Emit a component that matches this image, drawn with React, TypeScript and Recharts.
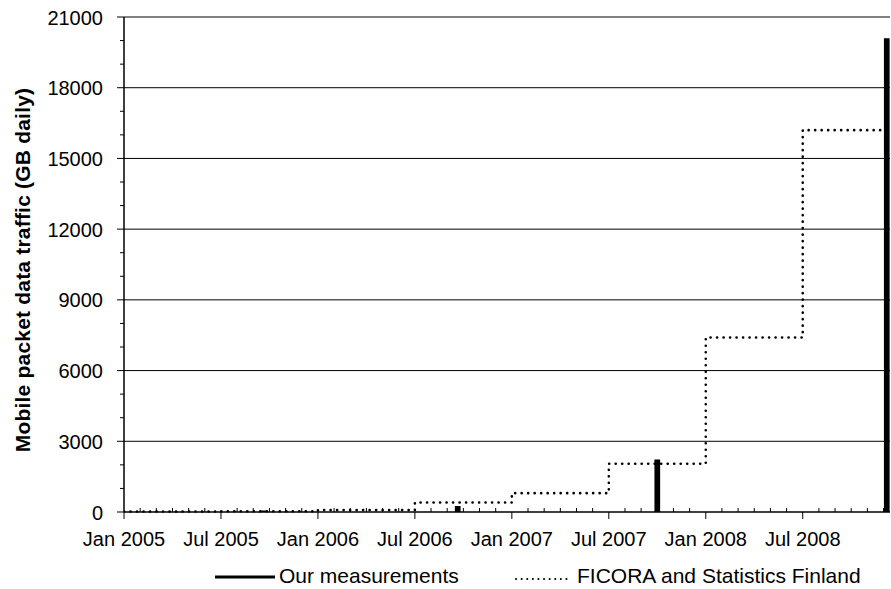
import React from "react";
import { ComposedChart, Line, XAxis, YAxis, CartesianGrid } from "recharts";

// x values are months counted from Jan 2005 (0 = Jan 2005)
const majorMonths = [0, 6, 12, 18, 24, 30, 36, 42];
const majorLabels = [
  "Jan 2005",
  "Jul 2005",
  "Jan 2006",
  "Jul 2006",
  "Jan 2007",
  "Jul 2007",
  "Jan 2008",
  "Jul 2008",
];
const monthTicks = [
  0, 1, 2, 3, 4, 5, 6, 7, 8, 9, 10, 11, 12, 13, 14, 15, 16, 17, 18, 19, 20, 21,
  22, 23, 24, 25, 26, 27, 28, 29, 30, 31, 32, 33, 34, 35, 36, 37, 38, 39, 40,
  41, 42, 43, 44, 45, 46, 47,
];
const yTicks = [
  0, 1000, 2000, 3000, 4000, 5000, 6000, 7000, 8000, 9000, 10000, 11000, 12000,
  13000, 14000, 15000, 16000, 17000, 18000, 19000, 20000, 21000,
];
const gridValues = [3000, 6000, 9000, 12000, 15000, 18000, 21000];

// FICORA and Statistics Finland (half-year steps)
const ficoraMonths = [0, 6, 12, 18, 24, 30, 36, 42, 47];
const ficoraGB = [20, 30, 80, 400, 800, 2050, 7400, 16200, 16200];

// Our measurements
const measuredMonths = [8.6, 20.65, 33.0, 47.2];
const measuredGB = [60, 250, 2230, 20100];

const ficoraData = ficoraMonths.map((m, i) => ({ m, gb: ficoraGB[i] }));
// each measurement is a vertical stroke from 0 up to its value, broken by a null
const measuredData = measuredMonths.flatMap((m, i) => [
  { m, gb: 0 },
  { m, gb: measuredGB[i] },
  { m, gb: null },
]);

const FONT = "'Liberation Sans', Arial, sans-serif";

function XTick({ x, y, payload }: any) {
  const idx = majorMonths.indexOf(payload.value);
  if (idx >= 0) {
    return (
      <g>
        <line x1={x} x2={x} y1={y} y2={y + 7} stroke="#000" />
        <text
          x={x}
          y={y + 34}
          textAnchor="middle"
          fontFamily={FONT}
          fontSize={20}
          fill="#000"
        >
          {majorLabels[idx]}
        </text>
      </g>
    );
  }
  return <line x1={x} x2={x} y1={y} y2={y - 4} stroke="#000" />;
}

function YTick({ x, y, payload }: any) {
  const major = payload.value % 3000 === 0;
  if (major) {
    return (
      <g>
        <line x1={x - 7} x2={x} y1={y} y2={y} stroke="#000" />
        <text
          x={x - 21}
          y={y + 7.5}
          textAnchor="end"
          fontFamily={FONT}
          fontSize={20}
          fill="#000"
        >
          {payload.value}
        </text>
      </g>
    );
  }
  return <line x1={x - 4} x2={x} y1={y} y2={y} stroke="#000" />;
}

function YTitle() {
  return (
    <text
      transform="translate(30,270) rotate(-90)"
      textAnchor="middle"
      fontFamily={FONT}
      fontSize={21}
      fontWeight="bold"
      letterSpacing={0.2}
      fill="#000"
    >
      Mobile packet data traffic (GB daily)
    </text>
  );
}

export default function App() {
  return (
    <div
      style={{
        position: "absolute",
        left: 0,
        top: 0,
        width: 891,
        height: 589,
        background: "#fff",
      }}
    >
      <ComposedChart
        width={891}
        height={589}
        margin={{ top: 17, right: 1, bottom: 37, left: 0 }}
      >
        <CartesianGrid
          vertical={false}
          horizontalValues={gridValues}
          stroke="#000"
          strokeWidth={1}
        />
        <XAxis
          type="number"
          dataKey="m"
          domain={[0, 47.4]}
          ticks={monthTicks}
          interval={0}
          height={40}
          tickSize={0}
          tickMargin={0}
          tickLine={false}
          tick={<XTick />}
          axisLine={{ stroke: "#000", strokeWidth: 1.5 }}
          allowDataOverflow
        />
        <YAxis
          type="number"
          domain={[0, 21000]}
          ticks={yTicks}
          interval={0}
          width={124}
          tickSize={0}
          tickMargin={0}
          tickLine={false}
          tick={<YTick />}
          axisLine={{ stroke: "#000", strokeWidth: 1.5 }}
          label={<YTitle />}
        />
        <Line
          data={ficoraData}
          dataKey="gb"
          name="FICORA and Statistics Finland"
          type="stepAfter"
          stroke="#000"
          strokeWidth={2.6}
          strokeDasharray="0.1 6.4"
          strokeLinecap="round"
          dot={false}
          activeDot={false}
          isAnimationActive={false}
        />
        <Line
          data={measuredData}
          dataKey="gb"
          name="Our measurements"
          type="linear"
          stroke="#000"
          strokeWidth={5.7}
          strokeLinecap="butt"
          dot={false}
          activeDot={false}
          connectNulls={false}
          isAnimationActive={false}
        />
      </ComposedChart>
      {/* legend */}
      <svg
        width={891}
        height={39}
        style={{ position: "absolute", left: 0, top: 550 }}
      >
        <line x1={215} x2={275} y1={27} y2={27} stroke="#000" strokeWidth={3} />
        <text x={279} y={33} fontFamily={FONT} fontSize={21} fill="#000">
          Our measurements
        </text>
        <line
          x1={516}
          x2={572}
          y1={29}
          y2={29}
          stroke="#000"
          strokeWidth={2}
          strokeDasharray="0.1 5.5"
          strokeLinecap="round"
        />
        <text x={577} y={33} fontFamily={FONT} fontSize={21} fill="#000">
          FICORA and Statistics Finland
        </text>
      </svg>
    </div>
  );
}
